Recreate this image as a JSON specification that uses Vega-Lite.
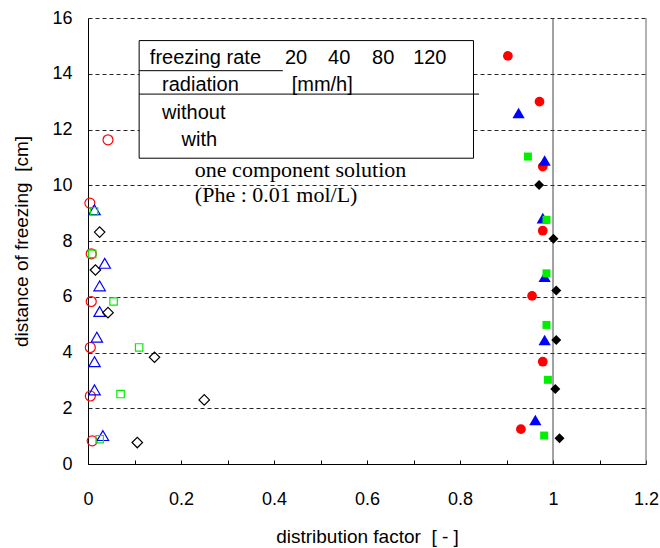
{
  "$schema": "https://vega.github.io/schema/vega-lite/v6.json",
  "width": 558,
  "height": 446,
  "autosize": {"type": "none"},
  "padding": {"left": 88, "top": 18, "right": 14, "bottom": 84},
  "background": "white",
  "config": {"view": {"stroke": null}, "font": "Liberation Sans"},
  "resolve": {"scale": {"size": "independent"}},
  "datasets": {
    "points": [
      {"x": 0.043, "y": 11.63, "rate": 20, "radiation": "without"},
      {"x": 0.004, "y": 9.36, "rate": 20, "radiation": "without"},
      {"x": 0.007, "y": 7.54, "rate": 20, "radiation": "without"},
      {"x": 0.007, "y": 5.83, "rate": 20, "radiation": "without"},
      {"x": 0.005, "y": 4.18, "rate": 20, "radiation": "without"},
      {"x": 0.005, "y": 2.44, "rate": 20, "radiation": "without"},
      {"x": 0.009, "y": 0.83, "rate": 20, "radiation": "without"},
      {"x": 0.014, "y": 9.12, "rate": 40, "radiation": "without"},
      {"x": 0.036, "y": 7.2, "rate": 40, "radiation": "without"},
      {"x": 0.025, "y": 6.39, "rate": 40, "radiation": "without"},
      {"x": 0.025, "y": 5.47, "rate": 40, "radiation": "without"},
      {"x": 0.019, "y": 4.55, "rate": 40, "radiation": "without"},
      {"x": 0.014, "y": 3.67, "rate": 40, "radiation": "without"},
      {"x": 0.014, "y": 2.66, "rate": 40, "radiation": "without"},
      {"x": 0.032, "y": 1.02, "rate": 40, "radiation": "without"},
      {"x": 0.013, "y": 9.06, "rate": 80, "radiation": "without"},
      {"x": 0.009, "y": 7.54, "rate": 80, "radiation": "without"},
      {"x": 0.055, "y": 5.83, "rate": 80, "radiation": "without"},
      {"x": 0.11, "y": 4.18, "rate": 80, "radiation": "without"},
      {"x": 0.07, "y": 2.51, "rate": 80, "radiation": "without"},
      {"x": 0.025, "y": 0.89, "rate": 80, "radiation": "without"},
      {"x": 0.025, "y": 8.32, "rate": 120, "radiation": "without"},
      {"x": 0.016, "y": 6.96, "rate": 120, "radiation": "without"},
      {"x": 0.043, "y": 5.43, "rate": 120, "radiation": "without"},
      {"x": 0.143, "y": 3.83, "rate": 120, "radiation": "without"},
      {"x": 0.25, "y": 2.3, "rate": 120, "radiation": "without"},
      {"x": 0.106, "y": 0.77, "rate": 120, "radiation": "without"},
      {"x": 0.903, "y": 14.64, "rate": 20, "radiation": "with"},
      {"x": 0.971, "y": 13.0, "rate": 20, "radiation": "with"},
      {"x": 0.978, "y": 10.67, "rate": 20, "radiation": "with"},
      {"x": 0.978, "y": 8.37, "rate": 20, "radiation": "with"},
      {"x": 0.955, "y": 6.03, "rate": 20, "radiation": "with"},
      {"x": 0.978, "y": 3.67, "rate": 20, "radiation": "with"},
      {"x": 0.931, "y": 1.25, "rate": 20, "radiation": "with"},
      {"x": 0.926, "y": 12.59, "rate": 40, "radiation": "with"},
      {"x": 0.982, "y": 10.89, "rate": 40, "radiation": "with"},
      {"x": 0.978, "y": 8.82, "rate": 40, "radiation": "with"},
      {"x": 0.982, "y": 6.72, "rate": 40, "radiation": "with"},
      {"x": 0.982, "y": 4.45, "rate": 40, "radiation": "with"},
      {"x": 0.962, "y": 1.58, "rate": 40, "radiation": "with"},
      {"x": 0.946, "y": 11.03, "rate": 80, "radiation": "with"},
      {"x": 0.986, "y": 8.76, "rate": 80, "radiation": "with"},
      {"x": 0.986, "y": 6.84, "rate": 80, "radiation": "with"},
      {"x": 0.986, "y": 4.99, "rate": 80, "radiation": "with"},
      {"x": 0.989, "y": 3.02, "rate": 80, "radiation": "with"},
      {"x": 0.981, "y": 1.02, "rate": 80, "radiation": "with"},
      {"x": 0.97, "y": 10.01, "rate": 120, "radiation": "with"},
      {"x": 1.001, "y": 8.08, "rate": 120, "radiation": "with"},
      {"x": 1.007, "y": 6.22, "rate": 120, "radiation": "with"},
      {"x": 1.007, "y": 4.45, "rate": 120, "radiation": "with"},
      {"x": 1.005, "y": 2.69, "rate": 120, "radiation": "with"},
      {"x": 1.014, "y": 0.92, "rate": 120, "radiation": "with"}
    ],
    "box": [{"x": 0.11, "x2": 0.829, "y": 15.19, "y2": 10.97}],
    "boxLines": [
      {"x": 0.11, "x2": 0.419, "y": 14.11},
      {"x": 0.11, "x2": 0.841, "y": 13.27}
    ],
    "legendText": [
      {"t": "freezing rate", "x": 0.133, "y": 14.36},
      {"t": "20", "x": 0.4236, "y": 14.36},
      {"t": "40", "x": 0.5162, "y": 14.36},
      {"t": "80", "x": 0.6109, "y": 14.36},
      {"t": "120", "x": 0.6992, "y": 14.36},
      {"t": "radiation", "x": 0.1593, "y": 13.37},
      {"t": "[mm/h]", "x": 0.438, "y": 13.37},
      {"t": "without", "x": 0.1593, "y": 12.37},
      {"t": "with", "x": 0.2011, "y": 11.41}
    ],
    "noteText": [
      {"t": "one component solution", "x": 0.2298, "y": 10.29},
      {"t": "(Phe : 0.01 mol/L)", "x": 0.2298, "y": 9.41}
    ],
    "vlines": [{"x": 1.0}],
    "border": [{"x": 1.2}]
  },
  "layer": [
    {
      "data": {"name": "border"},
      "mark": {"type": "rule", "color": "#666666", "strokeWidth": 1},
      "encoding": {
        "x": {"field": "x", "type": "quantitative", "title": "distribution factor\u00a0\u00a0[\u00a0-\u00a0]",
          "scale": {"domain": [0, 1.2], "nice": false, "zero": false},
          "axis": {
            "values": [0, 0.1, 0.2, 0.3, 0.4, 0.5, 0.6, 0.7, 0.8, 0.9, 1.0, 1.1, 1.2],
            "labelExpr": "round(datum.value*10)%2==0 ? format(datum.value,'~g') : ''",
            "labelFontSize": 18, "labelColor": "#000000", "labelFlush": false, "labelOverlap": false,
            "labelPadding": 30, "tickSize": -4, "tickColor": "#000000", "domainColor": "#000000",
            "grid": false, "titleFontSize": 19, "titleFontWeight": "normal", "titleColor": "#000000",
            "titlePadding": 19
          }
        }
      }
    },
    {
      "data": {"name": "vlines"},
      "mark": {"type": "rule", "color": "#444444", "strokeWidth": 1},
      "encoding": {
        "x": {"field": "x", "type": "quantitative", "title": "distribution factor\u00a0\u00a0[\u00a0-\u00a0]"}
      }
    },
    {
      "data": {"name": "box"},
      "mark": {"type": "rect", "fill": "white", "stroke": "black", "strokeWidth": 1},
      "encoding": {
        "x": {"field": "x", "type": "quantitative", "title": "distribution factor\u00a0\u00a0[\u00a0-\u00a0]"},
        "x2": {"field": "x2"},
        "y": {"field": "y", "type": "quantitative", "title": "distance of freezing\u00a0\u00a0[cm]",
          "scale": {"domain": [0, 16], "nice": false, "zero": false},
          "axis": {
            "values": [0, 2, 4, 6, 8, 10, 12, 14, 16],
            "labelFontSize": 18, "labelColor": "#000000", "labelFlush": false, "labelPadding": 16,
            "ticks": false, "domainColor": "#000000",
            "grid": true, "gridDash": [4, 3], "gridColor": "#000000", "gridWidth": 1, "gridOpacity": 0.85,
            "titleFontSize": 19, "titleFontWeight": "normal", "titleColor": "#000000", "titlePadding": 20
          }
        },
        "y2": {"field": "y2"}
      }
    },
    {
      "data": {"name": "boxLines"},
      "mark": {"type": "rule", "color": "black", "strokeWidth": 1},
      "encoding": {
        "x": {"field": "x", "type": "quantitative", "title": "distribution factor\u00a0\u00a0[\u00a0-\u00a0]"},
        "x2": {"field": "x2"},
        "y": {"field": "y", "type": "quantitative", "title": "distance of freezing\u00a0\u00a0[cm]"}
      }
    },
    {
      "data": {"name": "points"},
      "transform": [{"filter": "datum.radiation == 'without'"}],
      "mark": {"type": "point", "filled": false, "strokeWidth": 1.2, "opacity": 1},
      "encoding": {
        "x": {"field": "x", "type": "quantitative", "title": "distribution factor\u00a0\u00a0[\u00a0-\u00a0]"},
        "y": {"field": "y", "type": "quantitative", "title": "distance of freezing\u00a0\u00a0[cm]"},
        "color": {"field": "rate", "type": "nominal", "legend": null,
          "scale": {"domain": [20, 40, 80, 120], "range": ["#ff0000", "#0000ff", "#00ee00", "#000000"]}},
        "shape": {"field": "rate", "type": "nominal", "legend": null,
          "scale": {"domain": [20, 40, 80, 120], "range": ["circle", "triangle-up", "square", "diamond"]}},
        "size": {"field": "rate", "type": "nominal", "legend": null,
          "scale": {"type": "ordinal", "domain": [20, 40, 80, 120], "range": [100, 130, 55, 110]}}
      }
    },
    {
      "data": {"name": "points"},
      "transform": [{"filter": "datum.radiation == 'with'"}],
      "mark": {"type": "point", "filled": true, "opacity": 1},
      "encoding": {
        "x": {"field": "x", "type": "quantitative", "title": "distribution factor\u00a0\u00a0[\u00a0-\u00a0]"},
        "y": {"field": "y", "type": "quantitative", "title": "distance of freezing\u00a0\u00a0[cm]"},
        "color": {"field": "rate", "type": "nominal", "legend": null},
        "shape": {"field": "rate", "type": "nominal", "legend": null},
        "size": {"field": "rate", "type": "nominal", "legend": null,
          "scale": {"type": "ordinal", "domain": [20, 40, 80, 120], "range": [95, 150, 64, 100]}}
      }
    },
    {
      "data": {"name": "legendText"},
      "mark": {"type": "text", "align": "left", "baseline": "alphabetic", "fontSize": 20, "font": "Liberation Sans", "color": "black"},
      "encoding": {
        "x": {"field": "x", "type": "quantitative", "title": "distribution factor\u00a0\u00a0[\u00a0-\u00a0]"},
        "y": {"field": "y", "type": "quantitative", "title": "distance of freezing\u00a0\u00a0[cm]"},
        "text": {"field": "t"}
      }
    },
    {
      "data": {"name": "noteText"},
      "mark": {"type": "text", "align": "left", "baseline": "alphabetic", "fontSize": 22, "font": "Liberation Serif", "color": "black"},
      "encoding": {
        "x": {"field": "x", "type": "quantitative", "title": "distribution factor\u00a0\u00a0[\u00a0-\u00a0]"},
        "y": {"field": "y", "type": "quantitative", "title": "distance of freezing\u00a0\u00a0[cm]"},
        "text": {"field": "t"}
      }
    }
  ]
}
